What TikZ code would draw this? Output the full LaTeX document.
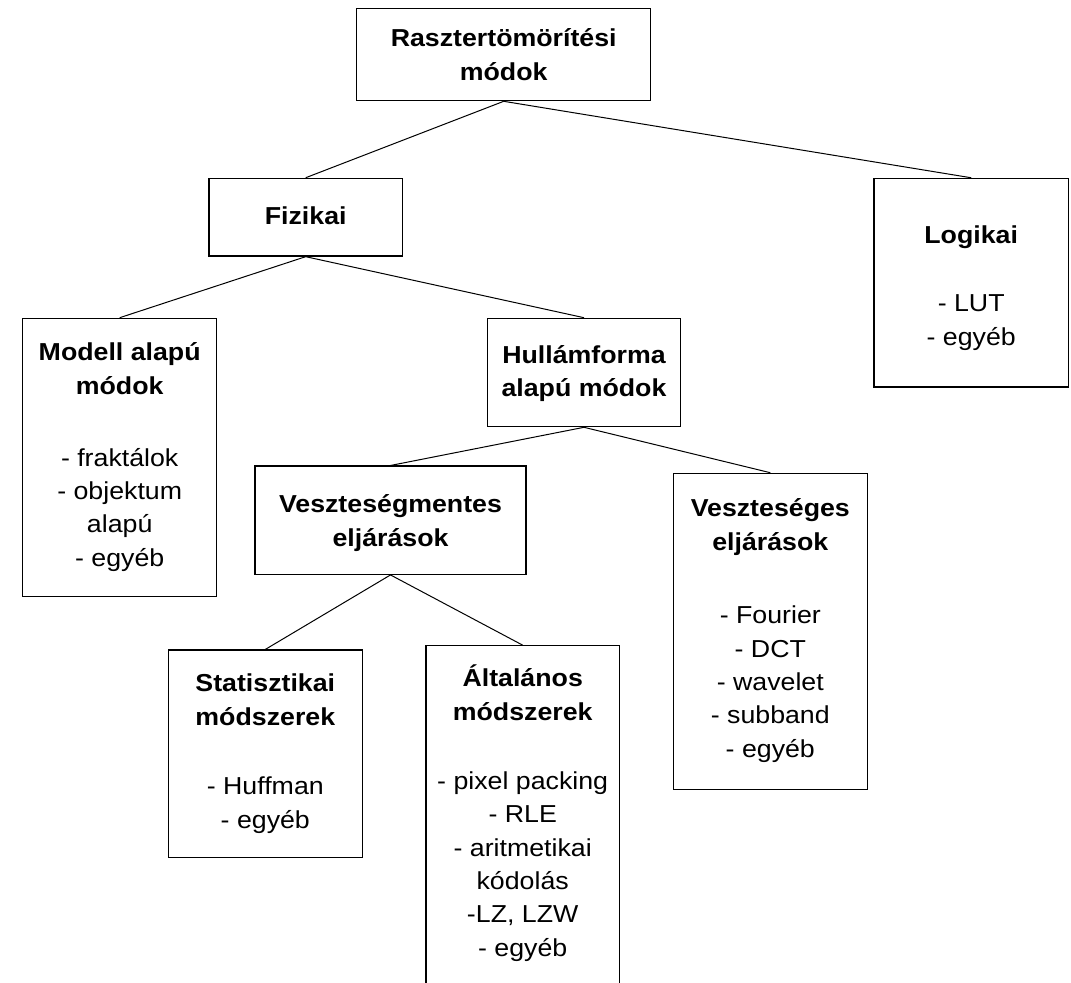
\documentclass[tikz,border=0pt]{standalone}
\usepackage{fontspec}
\setmainfont{Liberation Sans}[FakeStretch=1.09]
\newcommand\diagfont{\fontsize{18.4pt}{25pt}\selectfont}
\begin{document}
\begin{tikzpicture}[x=0.75pt,y=-0.75pt,
  box/.style={draw=black, line width=0.9pt, inner sep=0pt},
  conn/.style={draw=black, line width=0.75pt},
  ttl/.style={anchor=base, inner sep=0pt, align=center, font=\diagfont\bfseries},
  itm/.style={anchor=base, inner sep=0pt, align=center, font=\diagfont}]
% page frame; the open box at the bottom runs past it
\clip (0,0) rectangle (1071,982);

% boxes
\node[box, minimum width=220.5pt, minimum height=69.3pt]  (root) at (503.7,54.5) {};
\node[box, minimum width=145pt,   minimum height=58.3pt]  (fiz)  at (305.7,217.2) {};
\node[box, minimum width=145.7pt, minimum height=156.5pt] (log)  at (971.2,282.7) {};
\node[box, minimum width=145.5pt, minimum height=208.8pt] (mod)  at (119.7,457.5) {};
\node[box, minimum width=145pt,   minimum height=81.3pt]  (hul)  at (584,372.5) {};
\node[box, minimum width=203.3pt, minimum height=81.2pt]  (vm)   at (390.5,520.2) {};
\node[box, minimum width=145.5pt, minimum height=237pt]   (vs)   at (770.3,631.3) {};
\node[box, minimum width=145.5pt, minimum height=155.8pt] (st)   at (265.3,753.9) {};
\node[box, minimum width=145pt,   minimum height=265.7pt] (al)   at (522.7,822.9) {};

% connectors
\draw[conn] (root.south) -- (fiz.north);
\draw[conn] (root.south) -- (log.north);
\draw[conn] (fiz.south) -- (mod.north);
\draw[conn] (fiz.south) -- (hul.north);
\draw[conn] (hul.south) -- (vm.north);
\draw[conn] (hul.south) -- (vs.north);
\draw[conn] (vm.south) -- (st.north);
\draw[conn] (vm.south) -- (al.north);

% labels (each placed by the baseline of its last line)
\node[ttl] (root-t) at (503.7,80) {Rasztertömörítési\\módok};
\node[ttl] (fiz-t)  at (305.7,224) {Fizikai};
\node[ttl] (log-t)  at (971.2,243.3) {Logikai};
\node[itm] (log-i)  at (971.2,345) {- LUT\\- egyéb};
\node[ttl] (mod-t)  at (119.7,394.3) {Modell alapú\\módok};
\node[itm] (mod-i)  at (119.7,566) {- fraktálok\\- objektum\\alapú\\- egyéb};
\node[ttl] (hul-t)  at (584,396.7) {Hullámforma\\alapú módok};
\node[ttl] (vm-t)   at (390.5,546) {Veszteségmentes\\eljárások};
\node[ttl] (vs-t)   at (770.3,550) {Veszteséges\\eljárások};
\node[itm] (vs-i)   at (770.3,757) {- Fourier\\- DCT\\- wavelet\\- subband\\- egyéb};
\node[ttl] (st-t)   at (265.3,725) {Statisztikai\\módszerek};
\node[itm] (st-i)   at (265.3,828) {- Huffman\\- egyéb};
\node[ttl] (al-t)   at (522.7,720) {Általános\\módszerek};
\node[itm] (al-i)   at (522.7,956) {- pixel packing\\- RLE\\- aritmetikai\\kódolás\\-LZ, LZW\\- egyéb};
\end{tikzpicture}
\end{document}
